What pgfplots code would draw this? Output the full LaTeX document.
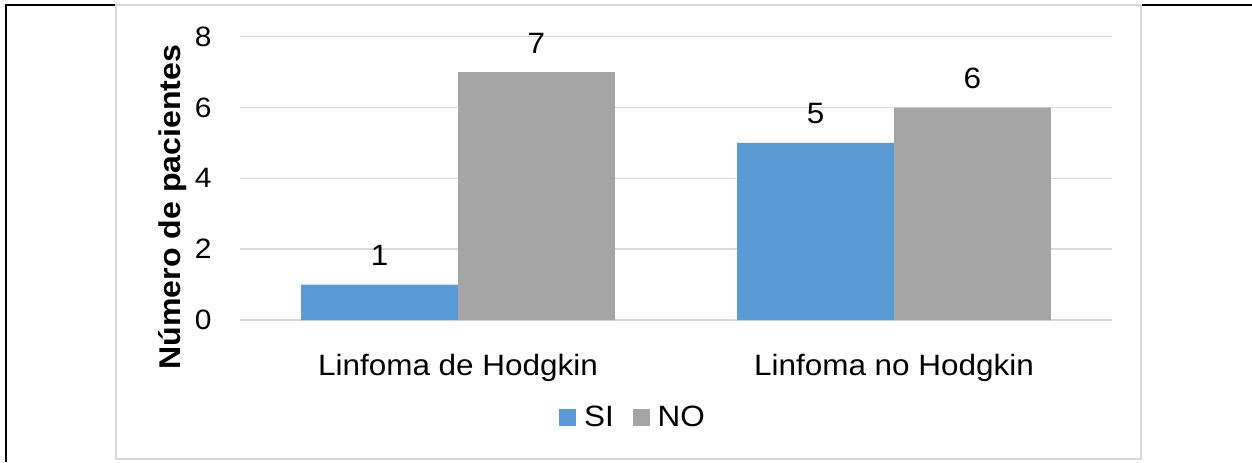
\documentclass[border=0pt]{standalone}
\usepackage{pgfplots}
\pgfplotsset{compat=1.18}
\usepackage{fontspec}
\setmainfont{Liberation Sans}[FakeStretch=1.07]
\definecolor{cblue}{HTML}{5B9BD5}
\definecolor{cgray}{HTML}{A5A5A5}
\definecolor{cgrid}{HTML}{D9D9D9}
\begin{document}
\begin{tikzpicture}
\useasboundingbox (0,0) rectangle (626pt,231pt);
\draw[black, line width=1pt] (2.5pt,228.75pt) -- (626pt,228.75pt);
\draw[black, line width=1pt] (3pt,0pt) -- (3pt,228.75pt);
\draw[cgrid, line width=0.75pt] (58pt,1.5pt) rectangle (570.5pt,228.5pt);
\begin{axis}[
  at={(120pt,71pt)}, anchor=south west, scale only axis,
  width=436pt, height=141.65pt,
  xmin=-0.5, xmax=1.5, ymin=0, ymax=8,
  ybar, bar width=0.36,
  xtick={0,1}, xticklabels={Linfoma de Hodgkin, Linfoma no Hodgkin},
  ytick={0,2,4,6,8},
  axis line style={draw=none}, tick style={draw=none},
  ymajorgrids, grid style={cgrid, line width=0.75pt},
  /pgf/number format/assume math mode=true,
  yticklabel style={font=\fontsize{14}{16}\selectfont, anchor=east, inner sep=0pt, xshift=-14pt},
  xticklabel style={font=\fontsize{14.7}{17}\selectfont, anchor=base, inner sep=0pt, yshift=-23.5pt},
  nodes near coords,
  nodes near coords style={font=\fontsize{14.7}{17}\selectfont, anchor=base, inner sep=0pt, yshift=9.5pt, text=black},
  legend style={at={(0.4518,-0.3459)}, anchor=center, draw=none, fill=none,
    font=\fontsize{14.7}{17}\selectfont, inner sep=0pt,
    /tikz/every even column/.append style={column sep=7.5pt}},
  legend columns=2,
]
\addplot[fill=cblue, draw=none, bar shift=-0.18,
  legend image code/.code={\fill[cblue] (0pt,-4.25pt) rectangle (8.5pt,4.25pt); \path (10.5pt,0pt);}]
  coordinates {(0,1) (1,5)};
\addplot[fill=cgray, draw=none, bar shift=0.18,
  legend image code/.code={\fill[cgray] (0pt,-4.25pt) rectangle (8.5pt,4.25pt); \path (10.5pt,0pt);}]
  coordinates {(0,7) (1,6)};
\legend{SI,NO}
\end{axis}
\node[rotate=90, anchor=base, font=\bfseries\fontsize{15}{18}\selectfont, inner sep=0pt] at (90pt,127.5pt) {Número de pacientes};
\end{tikzpicture}
\end{document}
